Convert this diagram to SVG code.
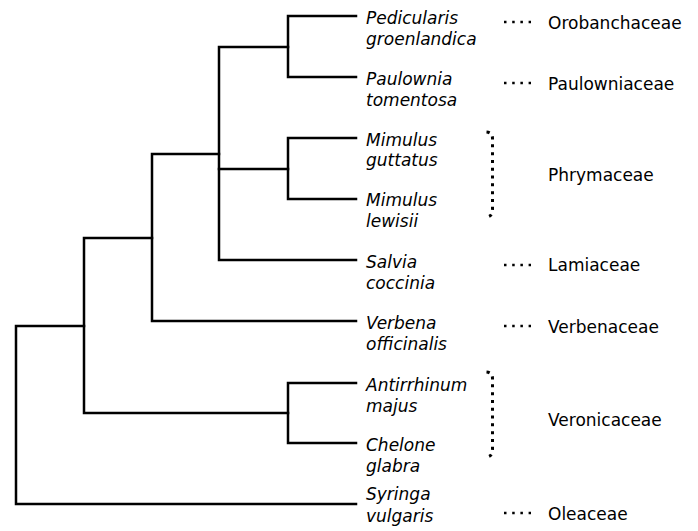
<svg xmlns="http://www.w3.org/2000/svg" width="698" height="531" viewBox="0 0 698 531">
<style>
.br{fill:none;stroke:#000;stroke-width:2.5;stroke-linejoin:miter;stroke-linecap:square}
.sp{font-family:"DejaVu Sans",Verdana,sans-serif;font-style:italic;font-size:17px;fill:#000}
.fam{font-family:"DejaVu Sans",Verdana,sans-serif;font-size:17px;fill:#000}
.dots{fill:none;stroke:#000;stroke-width:2.5;stroke-dasharray:2.5 5.7}
.brk{fill:none;stroke:#000;stroke-width:3;stroke-dasharray:3 4.8}
</style>
<rect width="698" height="531" fill="#fff"/>
<g id="connectors">
<path class="br" d="M356,16 H288 V77 H356"/>
<path class="br" d="M288,47 H219 V260 H356"/>
<path class="br" d="M219,169 H288"/>
<path class="br" d="M356,138 H288 V199 H356"/>
<path class="br" d="M219,154 H152 V321 H356"/>
<path class="br" d="M152,238 H84 V413 H288"/>
<path class="br" d="M356,383 H288 V443 H356"/>
<path class="br" d="M84,326 H16 V504 H356"/>
</g>
<g id="species">
<g id="pedicularis"><text class="sp" x="366" y="24">Pedicularis</text><text class="sp" x="366" y="45">groenlandica</text></g>
<g id="paulownia"><text class="sp" x="366" y="85">Paulownia</text><text class="sp" x="366" y="106">tomentosa</text></g>
<g id="mimulus-g"><text class="sp" x="366" y="146">Mimulus</text><text class="sp" x="366" y="166">guttatus</text></g>
<g id="mimulus-l"><text class="sp" x="366" y="206">Mimulus</text><text class="sp" x="366" y="227">lewisii</text></g>
<g id="salvia"><text class="sp" x="366" y="268">Salvia</text><text class="sp" x="366" y="289">coccinia</text></g>
<g id="verbena"><text class="sp" x="366" y="329">Verbena</text><text class="sp" x="366" y="350">officinalis</text></g>
<g id="antirrhinum"><text class="sp" x="366" y="391">Antirrhinum</text><text class="sp" x="366" y="412">majus</text></g>
<g id="chelone"><text class="sp" x="366" y="451">Chelone</text><text class="sp" x="366" y="472">glabra</text></g>
<g id="syringa"><text class="sp" x="366" y="500">Syringa</text><text class="sp" x="366" y="522">vulgaris</text></g>
</g>
<g id="families">
<g id="orobanchaceae"><path class="dots" d="M504,22 H531"/><text class="fam" x="548" y="29">Orobanchaceae</text></g>
<g id="paulowniaceae"><path class="dots" d="M504,83 H531"/><text class="fam" x="548" y="90">Paulowniaceae</text></g>
<g id="phrymaceae"><path class="brk" d="M486.5,132 Q492.5,132.5 492.5,138.5 V209 Q492.5,215 489,216.5"/><text class="fam" x="548" y="181">Phrymaceae</text></g>
<g id="lamiaceae"><path class="dots" d="M504,265 H531"/><text class="fam" x="548" y="271">Lamiaceae</text></g>
<g id="verbenaceae"><path class="dots" d="M504,326 H531"/><text class="fam" x="548" y="333">Verbenaceae</text></g>
<g id="veronicaceae"><path class="brk" d="M486.5,372 Q492.5,372.5 492.5,378.5 V449 Q492.5,455 489,456.5"/><text class="fam" x="548" y="426">Veronicaceae</text></g>
<g id="oleaceae"><path class="dots" d="M504,513 H531"/><text class="fam" x="548" y="520">Oleaceae</text></g>
</g>
</svg>
